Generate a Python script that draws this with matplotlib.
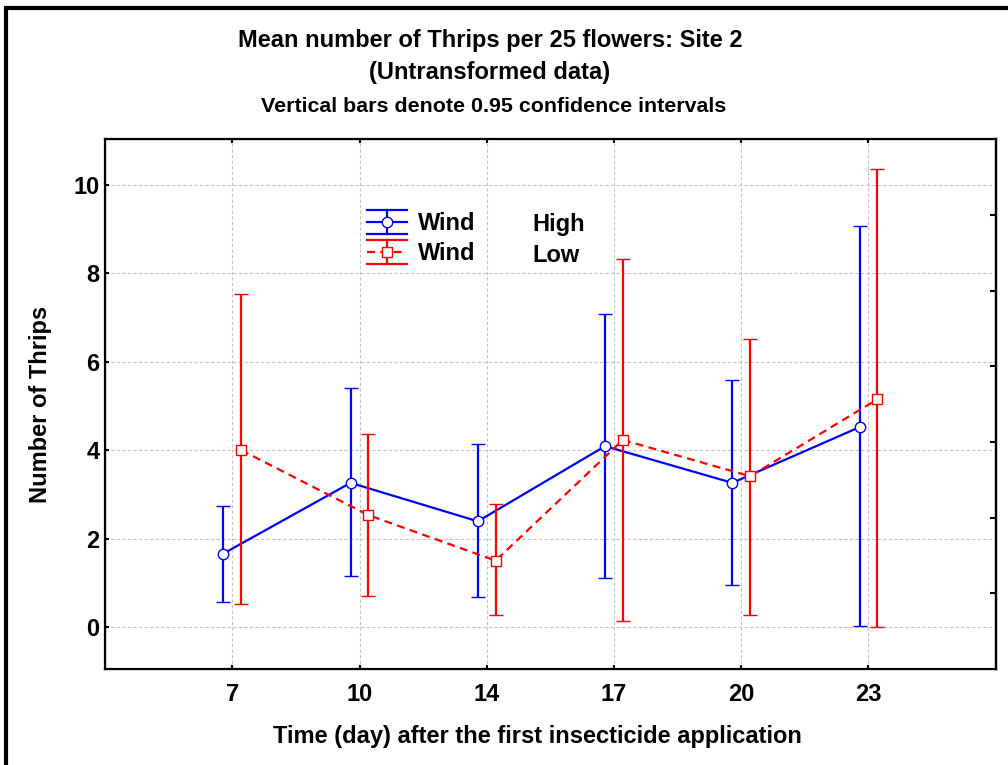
import matplotlib
matplotlib.use("Agg")
import matplotlib.pyplot as plt
import numpy as np
from matplotlib.lines import Line2D
from matplotlib.legend_handler import HandlerBase
from matplotlib.container import ErrorbarContainer

# Sampling days after the first insecticide application
days = ["7", "10", "14", "17", "20", "23"]

# Wind: High — means and 95% confidence limits
high_mean = [1.66, 3.26, 2.39, 4.09, 3.26, 4.52]
high_lo = [0.56, 1.15, 0.68, 1.10, 0.96, 0.03]
high_hi = [2.74, 5.41, 4.13, 7.08, 5.58, 9.06]

# Wind: Low — means and 95% confidence limits
low_mean = [4.00, 2.53, 1.50, 4.23, 3.41, 5.15]
low_lo = [0.51, 0.69, 0.27, 0.14, 0.28, -0.01]
low_hi = [7.54, 4.36, 2.79, 8.33, 6.52, 10.36]

y_ticks = [0, 2, 4, 6, 8, 10]

plt.rcParams["font.family"] = ["Liberation Sans", "DejaVu Sans"]
plt.rcParams["font.weight"] = "bold"
FS = 17

fig = plt.figure(figsize=(10.08, 7.65), dpi=100)
ax = fig.add_axes([0.1042, 0.1255, 0.8836, 0.6924])

pos = np.arange(1, len(days) + 1)
off = 0.07


def err(mean, lo, hi):
    m = np.asarray(mean)
    return [m - np.asarray(lo), np.asarray(hi) - m]


blue = "#0000ff"
red = "#ff0000"
DASH = [3.6, 2.4]

eb_hi = ax.errorbar(pos - off, high_mean, yerr=err(high_mean, high_lo, high_hi),
                    color=blue, lw=1.6, elinewidth=1.6, capsize=5, capthick=1.6,
                    marker="o", ms=7.5, mfc="white", mec=blue, mew=1.0,
                    label="Wind", zorder=3)
eb_lo = ax.errorbar(pos + off, low_mean, yerr=err(low_mean, low_lo, low_hi),
                    color=red, lw=1.6, elinewidth=1.6, capsize=5, capthick=1.6,
                    marker="s", ms=7.5, mfc="white", mec=red, mew=1.0,
                    label="Wind", zorder=4)
eb_lo.lines[0].set_dashes(DASH)

ax.set_xlim(0, 7)
ax.set_ylim(-0.95, 11.03)
ax.set_xticks(pos)
ax.set_xticklabels(days)
ax.set_yticks(y_ticks)
ax.tick_params(axis="both", direction="in", length=3, width=1.5,
               labelsize=FS, top=True)
ax.tick_params(axis="x", pad=10)
ax.tick_params(axis="y", pad=4)
for lab in ax.get_xticklabels() + ax.get_yticklabels():
    lab.set_fontweight("bold")

ax.grid(True, color="#c4c4c4", ls=(0, (3, 2)), lw=0.8)
ax.set_axisbelow(True)
for s in ax.spines.values():
    s.set_linewidth(1.6)
    s.set_color("black")

# inner ticks along the right edge
ax2 = ax.twinx()
ax2.set_ylim(0, 7)
ax2.set_yticks(np.arange(1, 7))
ax2.set_yticklabels([])
ax2.tick_params(axis="y", direction="in", length=4, width=1.5)
ax2.spines["right"].set_linewidth(1.6)

ax.set_xlabel("Time (day) after the first insecticide application",
              fontsize=FS, fontweight="bold", labelpad=14)
ax.xaxis.label.set_x(0.486)
ax.set_ylabel("Number of Thrips", fontsize=FS, fontweight="bold", labelpad=15)


class HandlerCIBar(HandlerBase):
    """Legend key: full-width caps, a vertical bar and the series line with its marker."""

    def create_artists(self, legend, orig_handle, xdescent, ydescent,
                       width, height, fontsize, trans):
        line = orig_handle.lines[0]
        col = line.get_color()
        x0, x1 = -xdescent, -xdescent + width
        xm = (x0 + x1) / 2
        yb, yt = -ydescent, -ydescent + height
        ym = (yb + yt) / 2
        arts = []
        for y in (yb, yt):
            arts.append(Line2D([x0, x1], [y, y], color=col, lw=1.6))
        arts.append(Line2D([xm, xm], [yb, yt], color=col, lw=1.6))
        mid = Line2D([x0, x1], [ym, ym], color=col, lw=1.6)
        if line.get_linestyle() not in ("-", "solid"):
            mid.set_dashes(DASH)
        arts.append(mid)
        arts.append(Line2D([xm], [ym], marker=line.get_marker(), ms=7.5,
                           mfc="white", mec=col, mew=1.0, ls="none"))
        for a in arts:
            a.set_transform(trans)
        return arts


leg = ax.legend(handles=[eb_hi, eb_lo], labels=["Wind", "Wind"],
                loc="upper left", bbox_to_anchor=(0.294, 0.866),
                frameon=False, fontsize=FS, borderpad=0, borderaxespad=0,
                handlelength=1.7, handleheight=1.15, handletextpad=0.47,
                labelspacing=0.22,
                handler_map={ErrorbarContainer: HandlerCIBar()})
for t in leg.get_texts():
    t.set_fontweight("bold")
ax.text(0.4794, 0.826, "High", transform=ax.transAxes, fontsize=FS,
        fontweight="bold", va="baseline", ha="left")
ax.text(0.4794, 0.769, "Low", transform=ax.transAxes, fontsize=FS,
        fontweight="bold", va="baseline", ha="left")

fig.text(490 / 1008, 1 - 41 / 765, "Mean number of Thrips per 25 flowers: Site 2",
         ha="center", va="center", fontsize=FS, fontweight="bold")
fig.text(490 / 1008, 1 - 72 / 765, "(Untransformed data)",
         ha="center", va="center", fontsize=FS, fontweight="bold")
fig.text(494 / 1008, 1 - 106 / 765, "Vertical bars denote 0.95 confidence intervals",
         ha="center", va="center", fontsize=15.4, fontweight="bold")

# outer frame on the left and top edges
fig.add_artist(Line2D([6 / 1008, 6 / 1008], [0, 1 - 6 / 765], transform=fig.transFigure,
                      color="black", lw=3, solid_capstyle="butt"))
fig.add_artist(Line2D([4 / 1008, 1], [1 - 8 / 765, 1 - 8 / 765], transform=fig.transFigure,
                      color="black", lw=3, solid_capstyle="butt"))

fig.savefig("out.png", dpi=100)
